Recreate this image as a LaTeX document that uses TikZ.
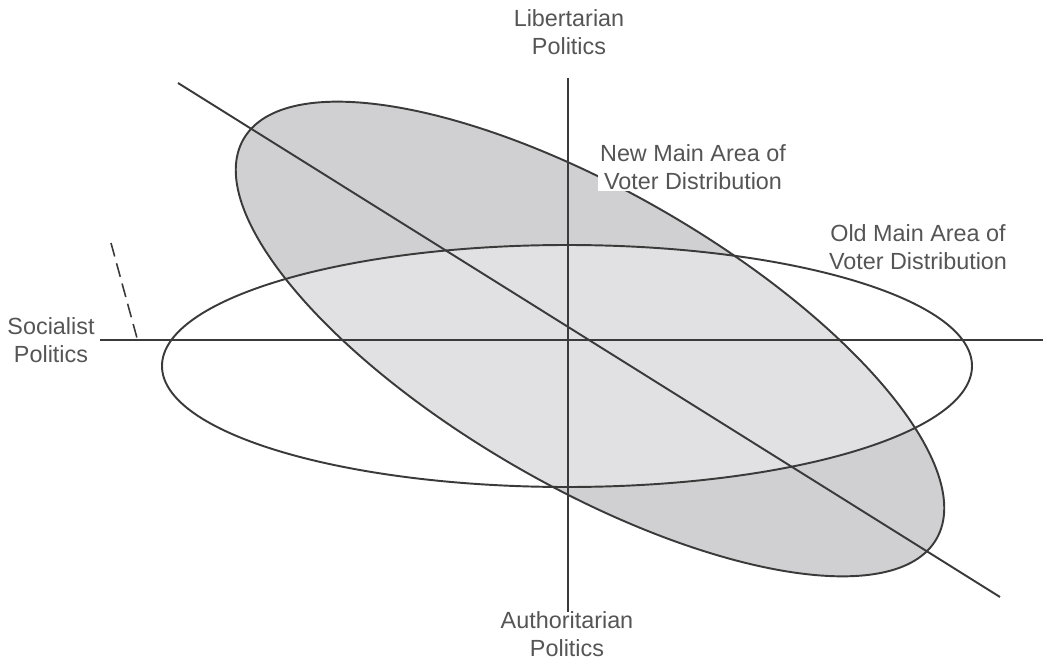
\documentclass[tikz,border=0pt]{standalone}
\usepackage{fontspec}
\setmainfont{Liberation Sans}
\usepackage{xcolor}
\definecolor{linegray}{HTML}{3A3A3A}
\definecolor{textgray}{HTML}{555555}
\definecolor{newfill}{HTML}{D0D0D2}
\definecolor{overlapfill}{HTML}{E1E1E3}

\begin{document}
\begin{tikzpicture}[line width=1.1pt, draw=linegray,
    lbl/.style={text=textgray, align=center, inner sep=1pt,
      font=\fontsize{13.3}{15.9}\selectfont}]
    \useasboundingbox (0,0) rectangle (20.92,13.18);
    % ── Fläche neue Verteilung (gedreht) ─────────────────────────────────────
    \fill[newfill] (11.8,6.4) ellipse [x radius=8.0, y radius=2.95, rotate=-30];
    % Überlappung heller
    \begin{scope}
      \clip (11.8,6.4) ellipse [x radius=8.0, y radius=2.95, rotate=-30];
      \fill[overlapfill] (11.34,5.86) ellipse [x radius=8.1, y radius=2.42];
    \end{scope}
    % ── Umrisse ─────────────────────────────────────────────────────────────
    \draw[linegray] (11.8,6.4) ellipse [x radius=8.0, y radius=2.95, rotate=-30];
    \draw[linegray] (11.34,5.86) ellipse [x radius=8.1, y radius=2.42];
    % ── Achsen ──────────────────────────────────────────────────────────────
    \coordinate (west) at (2.0,6.38);
    \coordinate (east) at (20.86,6.38);
    \coordinate (north) at (11.36,11.62);
    \coordinate (south) at (11.36,0.94);
    \draw[linegray] (west) -- (east);
    \draw[linegray] (north) -- (south);
    % Diagonale
    \coordinate (diagA) at (3.56,11.52);
    \coordinate (diagB) at (20.0,1.24);
    \draw[linegray] (diagA) -- (diagB);
    % gestrichelter Strich links
    \coordinate (tickA) at (2.22,8.32);
    \coordinate (tickB) at (2.74,6.42);
    \draw[linegray, line width=0.9pt, dash pattern=on 0.28cm off 0.14cm] (tickA) -- (tickB);
    % ── Beschriftungen ──────────────────────────────────────────────────────
    \node[lbl] (libertarian) at (11.38,12.54) {Libertarian\\Politics};
    \node[lbl] (authoritarian) at (11.34,0.5) {Authoritarian\\Politics};
    \node[lbl] (socialist) at (1.02,6.38) {Socialist\\Politics};
    \node[lbl, fill=white] (newarea) at (13.86,9.84) {New Main Area of\\Voter Distribution};
    \node[lbl] (oldarea) at (18.36,8.24) {Old Main Area of\\Voter Distribution};
\end{tikzpicture}
\end{document}
